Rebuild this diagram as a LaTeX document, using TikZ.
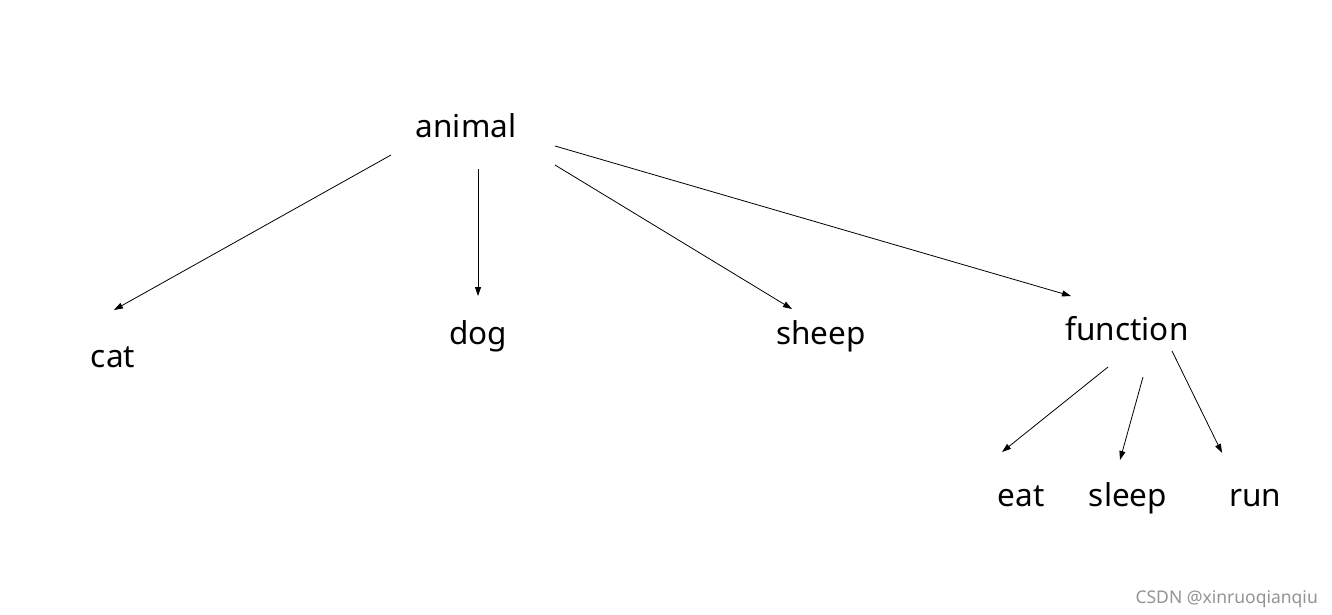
\documentclass[tikz,border=0pt]{standalone}
\usepackage{fontspec}
\setmainfont{Noto Sans}
\usetikzlibrary{arrows.meta}
\begin{document}
\begin{tikzpicture}[x=1pt,y=-1pt,
  lbl/.style={font=\fontsize{31.5}{36}\selectfont, inner sep=0pt, anchor=base},
  arr/.style={-{Triangle[length=9pt,width=6pt]}, line width=0.8pt}]
\fill[white] (0,0) rectangle (1332,615);
\useasboundingbox (0,0) rectangle (1332,615);
% nodes
\node[lbl] (animal) at (466,137) {animal};
\node[lbl] (cat) at (113,367) {cat};
\node[lbl] (dog) at (478,344) {dog};
\node[lbl] (sheep) at (821,344) {sheep};
\node[lbl] (function) at (1127,340) {function};
\node[lbl] (eat) at (1021,506) {eat};
\node[lbl] (sleep) at (1128,506) {sleep};
\node[lbl] (run) at (1255,506) {run};
\node[font=\fontsize{17.5}{20}\selectfont, text=black!42, inner sep=0pt, anchor=base east] (wm) at (1318,603) {CSDN @xinruoqianqiu};
% connector end points
\coordinate (animal-cat) at (391,155);
\coordinate (cat-in) at (114,310);
\coordinate (animal-dog) at (478,169);
\coordinate (dog-in) at (478,296);
\coordinate (animal-sheep) at (555,165);
\coordinate (sheep-in) at (792,309);
\coordinate (animal-function) at (555,146);
\coordinate (function-in) at (1071,296);
\coordinate (function-eat) at (1108,367);
\coordinate (eat-in) at (1002,452);
\coordinate (function-sleep) at (1143,377);
\coordinate (sleep-in) at (1120,460);
\coordinate (function-run) at (1172,351);
\coordinate (run-in) at (1222,453);
% connectors
\draw[arr] (animal-cat) -- (cat-in);
\draw[arr] (animal-dog) -- (dog-in);
\draw[arr] (animal-sheep) -- (sheep-in);
\draw[arr] (animal-function) -- (function-in);
\draw[arr] (function-eat) -- (eat-in);
\draw[arr] (function-sleep) -- (sleep-in);
\draw[arr] (function-run) -- (run-in);
\end{tikzpicture}
\end{document}
